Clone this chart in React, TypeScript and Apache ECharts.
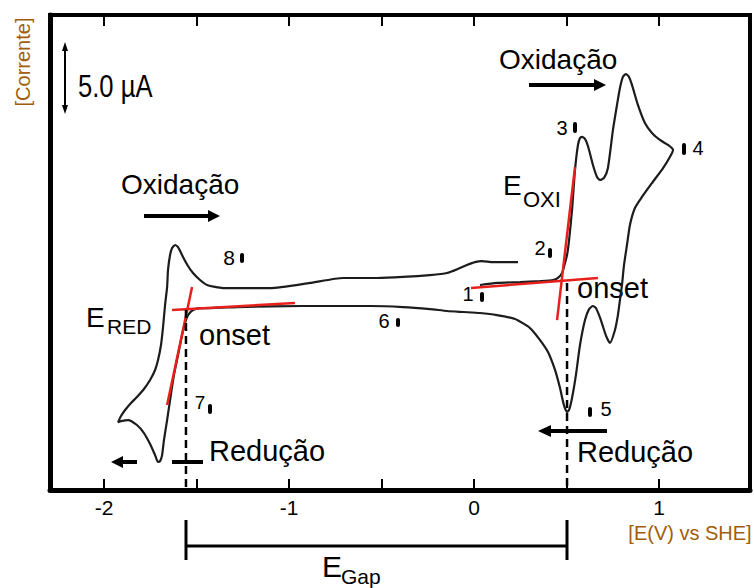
import React, { useEffect, useRef } from "react";
import * as echarts from "echarts";

// Cyclic voltammogram: potential (V vs SHE) and current (µA), in scan order (points 1 → 8)
const cvPotential = [
  0.032, 0.124, 0.249, 0.357, 0.427, 0.454, 0.476, 0.492, 0.503, 0.514, 0.53, 0.546, 0.562, 0.573, 0.584, 0.6,
  0.616, 0.643, 0.665, 0.681, 0.703, 0.724, 0.751, 0.773, 0.789, 0.805, 0.822, 0.838, 0.854, 0.886, 0.924, 0.962,
  1.005, 1.049, 1.076, 1.059, 1.022, 0.962, 0.908, 0.87, 0.843, 0.827, 0.811, 0.8, 0.789, 0.778, 0.762, 0.735,
  0.714, 0.686, 0.659, 0.643, 0.622, 0.6, 0.573, 0.551, 0.53, 0.514, 0.503, 0.486, 0.465, 0.438, 0.4, 0.357,
  0.303, 0.222, 0.124, 0.032, -0.059, -0.146, -0.238, -0.384, -0.562, -0.924, -1.281, -1.427, -1.481, -1.519,
  -1.546, -1.562, -1.578, -1.6, -1.622, -1.643, -1.659, -1.676, -1.686, -1.697, -1.708, -1.724, -1.751, -1.784,
  -1.822, -1.87, -1.908, -1.924, -1.908, -1.886, -1.854, -1.822, -1.784, -1.751, -1.724, -1.708, -1.692, -1.681,
  -1.67, -1.659, -1.654, -1.643, -1.632, -1.616, -1.6, -1.573, -1.546, -1.519, -1.481, -1.443, -1.357, -1.103,
  -0.886, -0.708, -0.524, -0.384, -0.238, -0.146, -0.076, -0.038, 0.005, 0.043, 0.103, 0.168, 0.238,
];
const cvCurrent = [
  0.07, 0.21, 0.27, 0.34, 0.41, 0.55, 0.89, 1.58, 2.12, 3.15, 5.21, 7.95, 9.66, 10.14, 10.21, 10.07,
  9.59, 8.29, 7.47, 7.26, 7.4, 8.08, 10.68, 12.4, 13.56, 14.32, 14.52, 14.32, 13.77, 12.4, 11.16, 10.48,
  10.0, 9.66, 9.32, 8.84, 8.08, 7.05, 6.1, 5.34, 4.18, 2.81, 1.44, 0.07, -0.96, -1.99, -3.01, -3.9,
  -3.42, -2.33, -1.51, -1.37, -1.58, -2.33, -4.04, -6.1, -7.67, -8.49, -8.63, -8.15, -6.99, -5.75, -4.52, -3.7,
  -2.88, -2.26, -1.99, -1.85, -1.78, -1.71, -1.58, -1.44, -1.37, -1.37, -1.44, -1.51, -1.51, -1.64,
  -1.99, -2.53, -3.36, -4.73, -6.1, -7.81, -9.18, -10.55, -11.58, -11.99, -12.05, -11.58, -10.82, -10.07,
  -9.52, -9.18, -9.25, -9.32, -8.9, -8.49, -8.01, -7.6, -7.05, -6.44, -5.75, -5.07, -4.04, -2.81,
  -1.3, -0.07, 1.1, 2.12, 2.6, 2.81, 2.67, 1.99, 1.37, 0.89, 0.41, 0.07, -0.14, -0.14,
  0.21, 0.55, 0.55, 0.62, 0.75, 0.89, 1.23, 1.44, 1.64, 1.71, 1.64, 1.64, 1.64,
];

// Onset tangent lines (red): [potential, current] end points
const oxBaseline = [[-0.016, -0.14], [0.67, 0.55]];
const oxRise = [[0.449, -2.33], [0.546, 8.15]];
const redBaseline = [[-1.632, -1.64], [-0.968, -1.16]];
const redRise = [[-1.659, -8.15], [-1.524, -0.07]];

// Onset potentials (dashed drop lines): [potential, current at top]
const redOnset = [-1.557, -1.64];
const oxOnset = [0.503, 0.21];

const xMin = -2.292;
const xMax = 1.492;
const yMin = -13.97;
const yMax = 18.56;
const tickValues = [-2, -1.5, -1, -0.5, 0, 0.5, 1];
const labelValues = [-2, -1, 0, 1];

const FONT = "'Liberation Sans', Arial, sans-serif";
const AXIS_TEXT = "#a05e0c";

function txt(text: string, x: number, y: number, size: number, extra: any = {}) {
  return {
    type: "text",
    x,
    y,
    silent: true,
    ...extra,
    style: {
      text,
      x: 0,
      y: 0,
      fontSize: size,
      fontFamily: FONT,
      fill: extra.fill || "#000",
      align: extra.align || "left",
      verticalAlign: "middle",
    },
  };
}

function hline(x1: number, y1: number, x2: number, y2: number, w: number) {
  return {
    type: "line",
    silent: true,
    shape: { x1, y1, x2, y2 },
    style: { stroke: "#000", lineWidth: w },
  };
}

function tri(points: number[][]) {
  return { type: "polygon", silent: true, shape: { points }, style: { fill: "#000" } };
}

function bar(x: number, y1: number, y2: number) {
  return {
    type: "rect",
    silent: true,
    shape: { x: x - 2, y: y1, width: 4, height: y2 - y1, r: 2 },
    style: { fill: "#000" },
  };
}

export default function App() {
  const ref = useRef<HTMLDivElement>(null);
  useEffect(() => {
    if (!ref.current) return;
    const chart = echarts.init(ref.current, undefined, { renderer: "svg" });
    const cvData = cvPotential.map((v, i) => [v, cvCurrent[i]]);
    const redLine = (data: number[][]) => ({
      type: "line",
      data,
      showSymbol: false,
      silent: true,
      z: 3,
      lineStyle: { color: "#e8201c", width: 2.5 },
    });
    const dashLine = (p: number[]) => ({
      type: "line",
      data: [p, [p[0], yMin]],
      showSymbol: false,
      silent: true,
      z: 4,
      lineStyle: { color: "#000", width: 2.5, type: [8, 5] },
    });

    const graphic: any[] = [
      // y-axis / x-axis titles
      txt("[Corrente]", 23, 62, 20, { rotation: Math.PI / 2, align: "center", fill: AXIS_TEXT }),
      txt("[E(V) vs SHE]", 690, 533, 20, { align: "center", fill: AXIS_TEXT }),
      // scale bar
      hline(65, 46, 65, 110, 2),
      tri([[62, 51], [65, 42], [68, 51]]),
      tri([[62, 105], [65, 114], [68, 105]]),
      txt("5.0 µA", 78, 86, 32, { scaleX: 0.8 }),
      // oxidation / reduction arrows
      txt("Oxidação", 121, 184, 28),
      hline(144, 216, 210, 216, 4),
      tri([[208, 210], [220, 216], [208, 222]]),
      txt("Oxidação", 499, 59, 28),
      hline(529, 85, 596, 85, 4),
      tri([[594, 79], [606, 85], [594, 91]]),
      txt("Redução", 577, 452, 29),
      hline(607, 431, 549, 431, 4),
      tri([[551, 425], [538, 431], [551, 437]]),
      txt("Redução", 209, 451, 29),
      hline(137, 462, 121, 462, 4),
      tri([[123, 456], [111, 462], [123, 468]]),
      hline(172, 462, 203, 462, 4),
      // onset labels
      txt("E", 86, 317, 28),
      txt("RED", 107, 326, 21),
      txt("onset", 199, 335, 29),
      txt("E", 503, 185, 28),
      txt("OXI", 523, 199, 22),
      txt("onset", 577, 288, 29),
      // E gap bracket
      hline(186, 520, 186, 560, 3),
      hline(567, 520, 567, 560, 3),
      hline(186, 546, 567, 546, 3),
      txt("E", 322, 566, 30),
      txt("Gap", 341, 576, 21),
      // numbered markers
      txt("1", 468, 294, 20, { align: "center" }),
      bar(482, 292, 302),
      txt("2", 540, 248, 20, { align: "center" }),
      bar(550, 248, 258),
      txt("3", 562, 128, 20, { align: "center" }),
      bar(575, 122, 133),
      txt("4", 698, 148, 20, { align: "center" }),
      bar(684, 143, 155),
      txt("5", 606, 409, 20, { align: "center" }),
      bar(590, 407, 417),
      txt("6", 384, 321, 20, { align: "center" }),
      bar(398, 318, 327),
      txt("7", 200, 402, 19, { align: "center" }),
      bar(210, 404, 414),
      txt("8", 229, 257, 21, { align: "center" }),
      bar(242, 253, 263),
    ];

    chart.setOption({
      animation: false,
      backgroundColor: "#fff",
      grid: {
        left: 50,
        right: 4,
        top: 15,
        bottom: 98,
        show: true,
        borderColor: "#000",
        borderWidth: 4,
        backgroundColor: "transparent",
      },
      xAxis: [
        {
          type: "value",
          min: xMin,
          max: xMax,
          position: "bottom",
          axisLine: { show: true, onZero: false, lineStyle: { color: "#000", width: 5 } },
          axisTick: {
            show: true,
            inside: true,
            length: 11,
            customValues: tickValues,
            lineStyle: { color: "#000", width: 2 },
          },
          axisLabel: {
            show: true,
            customValues: labelValues,
            fontSize: 21,
            fontFamily: FONT,
            color: "#000",
            margin: 7,
            formatter: (v: number) => String(v),
          },
          splitLine: { show: false },
        },
        {
          type: "value",
          min: xMin,
          max: xMax,
          position: "top",
          axisLine: { show: false, onZero: false },
          axisTick: {
            show: true,
            inside: true,
            length: 11,
            customValues: tickValues,
            lineStyle: { color: "#000", width: 2 },
          },
          axisLabel: { show: false },
          splitLine: { show: false },
        },
      ],
      yAxis: {
        type: "value",
        min: yMin,
        max: yMax,
        axisLine: { show: true, onZero: false, lineStyle: { color: "#000", width: 5 } },
        axisTick: { show: false },
        axisLabel: { show: false },
        splitLine: { show: false },
      },
      series: [
        {
          type: "line",
          data: cvData,
          showSymbol: false,
          silent: true,
          smooth: 0.2,
          z: 2,
          lineStyle: { color: "#1c1c1c", width: 2.2 },
        },
        redLine(oxBaseline),
        redLine(oxRise),
        redLine(redBaseline),
        redLine(redRise),
        dashLine(redOnset),
        dashLine(oxOnset),
      ],
      graphic,
    });
    return () => chart.dispose();
  }, []);

  return (
    <div
      ref={ref}
      style={{ position: "fixed", left: 0, top: 0, width: 754, height: 588, background: "#fff" }}
    />
  );
}
